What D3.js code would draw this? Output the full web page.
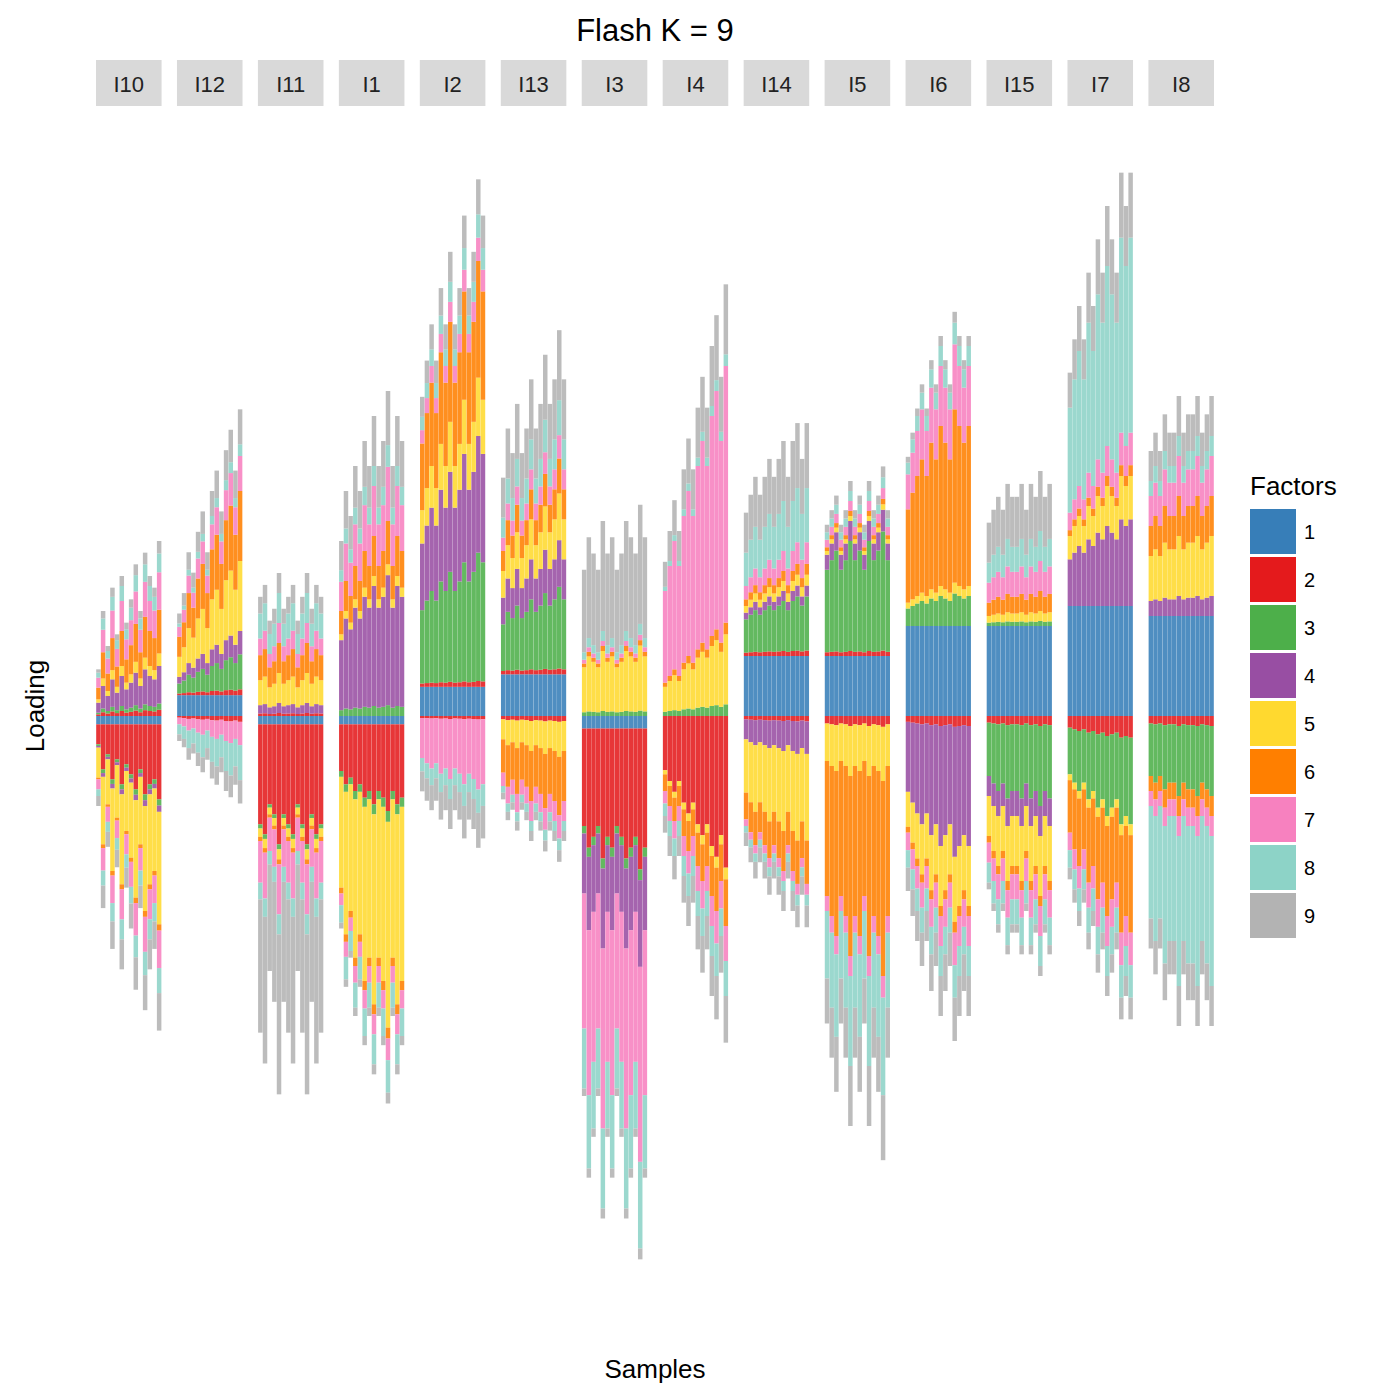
<!DOCTYPE html>
<html><head><meta charset="utf-8">
<script src="https://cdn.jsdelivr.net/npm/d3@7"></script>
<style>body{margin:0;background:#fff}text{font-family:"Liberation Sans",Arial,sans-serif}</style>
</head><body><svg id="c" width="1400" height="1400"></svg>
<script>
const panels = ["I10","I12","I11","I1","I2","I13","I3","I4","I14","I5","I6","I15","I7","I8"];
const factors = ["1","2","3","4","5","6","7","8","9"];
const colors = ["#377EB8","#E41A1C","#4DAF4A","#984EA3","#FFD92F","#FF7F00","#F781BF","#8DD3C7","#B3B3B3"];
// typical positive / negative loading per factor for each panel
const posProfile = {
 I10:[0,0.05,0.05,0.3,0.1,0.35,0.3,0.15,0.1],
 I12:[0.25,0.05,0.3,0.2,0.6,0.6,0.3,0.1,0.3],
 I11:[0,0.03,0,0.1,0.3,0.3,0.2,0.3,0.2],
 I1:[0,0,0.1,1.2,0.1,0.4,0.5,0.2,0.5],
 I2:[0.35,0.05,1.1,1.0,0.5,1.0,0.2,0.2,0.3],
 I13:[0.5,0.05,0.7,0.4,0.4,0.3,0.2,0.3,0.6],
 I3:[0,0,0.05,0,0.6,0.05,0.05,0.1,1.1],
 I4:[0,0,0.1,0,0.6,0.1,2.2,0.1,0.6],
 I14:[0.72,0.05,0.5,0.1,0.1,0.1,0.2,0.5,0.6],
 I5:[0.72,0.05,1.1,0.2,0.05,0.05,0.1,0.1,0.1],
 I6:[1.08,0,0.3,0,0.1,1.6,0.6,0.2,0.1],
 I15:[1.08,0,0.05,0,0.1,0.2,0.3,0.3,0.6],
 I7:[1.32,0,0,0.8,0.4,0.1,0.3,1.8,0.6],
 I8:[1.2,0,0,0.2,0.6,0.4,0.4,0.2,0.4]};
const negProfile = {
 I10:[0.1,0.6,0.05,0.05,0.9,0.05,0.3,0.2,0.3],
 I12:[0,0.05,0,0,0,0,0.2,0.3,0.2],
 I11:[0.1,1.2,0.05,0,0.1,0.05,0.5,0.2,1.6],
 I1:[0.1,0.8,0.1,0,1.9,0.1,0.2,0.3,0.1],
 I2:[0,0.03,0,0,0,0,0.6,0.2,0.3],
 I13:[0,0.05,0,0,0.3,0.5,0.2,0.1,0.1],
 I3:[0.15,1.3,0.1,0.8,0,0,1.8,0.8,0.1],
 I4:[0,1.3,0,0,0.1,0.4,0.3,0.3,0.4],
 I14:[0,0.05,0,0.3,0.8,0.4,0.1,0.1,0.2],
 I5:[0,0.1,0,0,0.5,1.8,0.2,0.9,0.6],
 I6:[0,0.1,0,1.2,0.6,0.1,0.3,0.3,0.4],
 I15:[0,0.1,0.8,0.3,0.6,0.1,0.3,0.3,0.1],
 I7:[0,0.2,0.8,0,0.1,0.9,0.3,0.3,0.2],
 I8:[0,0.1,0.7,0,0,0.2,0.2,1.5,0.4]};
// per-sample magnitude for each panel
const sampleScale = {
 I10:[0.4,0.9,0.6,1.1,0.7,1.2,0.8,1.0,1.3,0.9,1.4,1.2,1.1,1.5],
 I12:[0.4,0.5,0.7,0.6,0.8,0.9,0.7,1.0,1.1,0.9,1.2,1.3,1.1,1.4],
 I11:[1.0,1.1,0.8,0.9,1.2,0.9,1.0,1.1,0.8,1.0,1.2,0.9,1.1,1.0],
 I1:[0.7,0.9,0.8,1.0,0.9,1.1,1.0,1.2,1.0,1.1,1.3,1.0,1.2,1.1],
 I2:[0.8,0.9,1.0,0.9,1.1,1.0,1.2,1.0,1.1,1.3,1.1,1.2,1.4,1.3],
 I13:[0.8,1.0,0.9,1.1,0.9,1.0,1.2,1.0,1.1,1.3,1.1,1.2,1.4,1.2],
 I3:[0.9,1.1,1.0,0.9,1.2,1.0,1.1,0.9,1.0,1.2,1.1,1.0,1.3,1.1],
 I4:[0.5,0.6,0.7,0.6,0.8,0.9,0.8,1.0,1.1,1.0,1.2,1.3,1.1,1.4],
 I14:[0.8,0.9,1.0,0.9,1.0,1.1,1.0,1.1,1.2,1.0,1.2,1.3,1.1,1.3],
 I5:[0.9,1.0,1.1,0.9,1.0,1.2,1.0,1.1,0.9,1.2,1.0,1.1,1.3,1.0],
 I6:[0.7,0.8,0.9,1.0,0.9,1.1,1.0,1.2,1.1,1.0,1.3,1.2,1.1,1.2],
 I15:[0.8,0.9,1.0,0.9,1.1,1.0,1.0,1.1,0.9,1.1,1.0,1.2,1.0,1.1],
 I7:[0.7,0.8,0.9,0.8,1.0,0.9,1.1,1.0,1.2,1.1,1.0,1.3,1.2,1.3],
 I8:[0.9,1.0,0.9,1.1,1.0,1.0,1.2,1.0,1.1,1.1,1.2,1.0,1.1,1.2]};

const svg = d3.select("#c");
const px = d3.scaleBand().domain(panels).range([96,1214]).paddingInner(0.19).paddingOuter(0);
const y = d3.scaleLinear().domain([-6.6,6.6]).range([1266,166]);
svg.append("text").attr("x",655).attr("y",41).attr("text-anchor","middle").attr("font-size",31).text("Flash K = 9");
svg.append("text").attr("x",655).attr("y",1378).attr("text-anchor","middle").attr("font-size",26).text("Samples");
svg.append("text").attr("transform","translate(44,706) rotate(-90)").attr("text-anchor","middle").attr("font-size",26).text("Loading");
panels.forEach(p=>{
  const x0 = px(p), w = px.bandwidth();
  const g = svg.append("g");
  g.append("rect").attr("x",x0).attr("y",60).attr("width",w).attr("height",46).attr("fill","#d9d9d9");
  g.append("text").attr("x",x0+w/2).attr("y",92).attr("text-anchor","middle").attr("font-size",22).attr("fill","#222").text(p);
  const sx = d3.scaleBand().domain(d3.range(sampleScale[p].length)).range([x0,x0+w]).padding(0.04);
  sampleScale[p].forEach((m,i)=>{
    let up=0, dn=0;
    factors.forEach((f,k)=>{
      const vp = posProfile[p][k]*(k===0?1:m), vn = negProfile[p][k]*(k===0?1:m);
      if(vp>0){g.append("rect").attr("x",sx(i)).attr("width",sx.bandwidth()).attr("y",y(up+vp)).attr("height",y(up)-y(up+vp)).attr("fill",colors[k]).attr("opacity",0.88);up+=vp;}
      if(vn>0){g.append("rect").attr("x",sx(i)).attr("width",sx.bandwidth()).attr("y",y(-dn)).attr("height",y(-dn-vn)-y(-dn)).attr("fill",colors[k]).attr("opacity",0.88);dn+=vn;}
    });
  });
});
const lg = svg.append("g");
lg.append("text").attr("x",1250).attr("y",495).attr("font-size",26).text("Factors");
factors.forEach((f,k)=>{
  lg.append("rect").attr("x",1250).attr("y",509+k*48).attr("width",46).attr("height",45).attr("fill",colors[k]);
  lg.append("text").attr("x",1304).attr("y",539+k*48).attr("font-size",20).text(f);
});
</script></body></html>
